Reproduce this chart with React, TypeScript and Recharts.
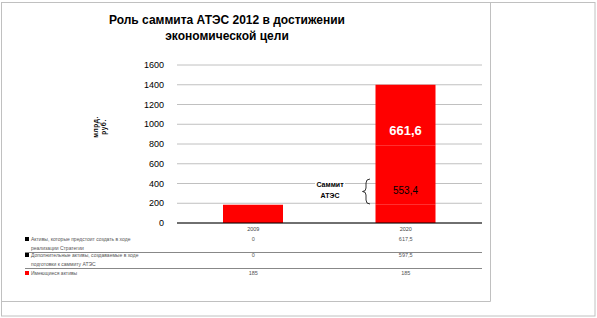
import React from 'react';
import { BarChart, Bar, XAxis, YAxis, CartesianGrid, LabelList } from 'recharts';

const categories = ['2009', '2020'];
const existingAssets = [185, 185];
const additionalAssets = [0, 597.5];
const strategyAssets = [0, 617.5];
const yTicks = [0, 200, 400, 600, 800, 1000, 1200, 1400, 1600];
const strategyNotes = ['', '661,6'];
const additionalNotes = ['', '553,4'];

const titleLines = ['Роль саммита АТЭС 2012 в достижении', 'экономической цели'];
const yLabelLines = ['млрд.', 'руб.'];
const summitLines = ['Саммит', 'АТЭС'];

const tableRows = [
  { lines: ['Активы, которые предстоит создать в ходе', 'реализации Стратегии'], values: strategyAssets, color: '#000000' },
  { lines: ['Дополнительные активы, создаваемые в ходе', 'подготовки к саммиту АТЭС'], values: additionalAssets, color: '#000000' },
  { lines: ['Имеющиеся активы'], values: existingAssets, color: '#ff0000' },
];

const data = categories.map((c, i) => ({
  category: c,
  existing: existingAssets[i],
  additional: additionalAssets[i],
  strategy: strategyAssets[i],
  strategyNote: strategyNotes[i],
  additionalNote: additionalNotes[i],
}));

const W = 597;
const H = 318;
const PLOT_LEFT = 177;
const PLOT_RIGHT = 482;
const FONT = '"Liberation Sans", Arial, sans-serif';

const fmt = (v: number) => String(v).replace('.', ',');

const makeNote = (big: boolean) => (props: any) => {
  const vb = props.viewBox || {};
  const x = Number(props.x ?? vb.x);
  const y = Number(props.y ?? vb.y);
  const width = Number(props.width ?? vb.width);
  const height = Number(props.height ?? vb.height);
  const t = props.value;
  if (!t || !isFinite(x) || !isFinite(y)) return null;
  return (
    <text
      x={x + width / 2}
      y={y + height / 2 + 15}
      textAnchor="middle"
      dominantBaseline="central"
      fontFamily={FONT}
      fontSize={big ? 13 : 10}
      fontWeight={big ? 'bold' : 'normal'}
      fill={big ? '#ffffff' : '#000000'}
    >
      {t}
    </text>
  );
};

export default function App() {
  const band = (PLOT_RIGHT - PLOT_LEFT) / categories.length;
  const colX = categories.map((_, i) => PLOT_LEFT + band * (i + 0.5));
  const rowY = [[239, 248], [255, 264], [273]];
  return (
    <div style={{ position: 'absolute', left: 0, top: 0, width: W, height: H, background: '#fff' }}>
      <BarChart
        width={W}
        height={H}
        data={data}
        margin={{ top: 65, right: W - PLOT_RIGHT, bottom: 75, left: PLOT_LEFT - 60 }}
      >
        <CartesianGrid vertical={false} stroke="#c0c0c0" />
        <XAxis
          dataKey="category"
          height={20}
          tickLine={false}
          tickSize={0}
          tickMargin={4}
          axisLine={{ stroke: '#000' }}
          tick={{ fontSize: 5.5, fill: '#444', fontFamily: FONT }}
        />
        <YAxis
          width={60}
          domain={[0, 1600]}
          ticks={yTicks}
          axisLine={false}
          tickLine={false}
          tickSize={0}
          tickMargin={13}
          interval={0}
          tick={{ fontSize: 9, fill: '#000', fontFamily: FONT }}
        />
        <Bar dataKey="existing" stackId="a" fill="#ff0000" barSize={60} isAnimationActive={false} />
        <Bar dataKey="additional" stackId="a" fill="#ff0000" barSize={60} isAnimationActive={false}>
          <LabelList dataKey="additionalNote" content={makeNote(false)} />
        </Bar>
        <Bar dataKey="strategy" stackId="a" fill="#ff0000" barSize={60} isAnimationActive={false}>
          <LabelList dataKey="strategyNote" content={makeNote(true)} />
        </Bar>
      </BarChart>
      <svg
        width={W}
        height={H}
        style={{ position: 'absolute', left: 0, top: 0, pointerEvents: 'none' }}
        fontFamily={FONT}
      >
        <rect x={1.5} y={2.5} width={593.5} height={313.5} fill="none" stroke="#c0c0c0" />
        <line x1={490.5} y1={2.5} x2={490.5} y2={301.5} stroke="#c0c0c0" />
        <line x1={1.5} y1={301.5} x2={490.5} y2={301.5} stroke="#c0c0c0" />
        {titleLines.map((t, i) => (
          <text key={t} x={227} y={24 + i * 16} textAnchor="middle" fontSize={12} fontWeight="bold" fill="#000">
            {t}
          </text>
        ))}
        <g transform="translate(100,127) rotate(-90)">
          {yLabelLines.map((t, i) => (
            <text key={t} x={0} y={-2 + i * 8} textAnchor="middle" fontSize={6.5} fontWeight="bold" fill="#000" letterSpacing={0.6}>
              {t}
            </text>
          ))}
        </g>
        <rect x={315} y={178} width={30} height={22} fill="#fff" />
        {summitLines.map((t, i) => (
          <text key={t} x={330} y={186.5 + i * 11} textAnchor="middle" fontSize={7} fontWeight="bold" fill="#000">
            {t}
          </text>
        ))}
        <path
          d="M370,179 Q366,179 366,183 L366,188 Q366,191.5 362.5,191.5 Q366,191.5 366,195 L366,200 Q366,204 370,204"
          fill="none"
          stroke="#000"
          strokeWidth={0.8}
        />
        {tableRows.map((row, r) => (
          <g key={r}>
            <rect x={25} y={rowY[r][0] - 2} width={4} height={4} fill={row.color} />
            {row.lines.map((ln, k) => (
              <text key={k} x={31} y={rowY[r][k]} dominantBaseline="central" fontSize={5} fill="#555">
                {ln}
              </text>
            ))}
            {row.values.map((v, c) => (
              <text key={c} x={colX[c]} y={rowY[r][0]} textAnchor="middle" dominantBaseline="central" fontSize={5.5} fill="#555">
                {fmt(v)}
              </text>
            ))}
          </g>
        ))}
        <line x1={25} y1={252.5} x2={PLOT_RIGHT} y2={252.5} stroke="#888" />
        <line x1={25} y1={268.5} x2={PLOT_RIGHT} y2={268.5} stroke="#888" />
      </svg>
    </div>
  );
}
